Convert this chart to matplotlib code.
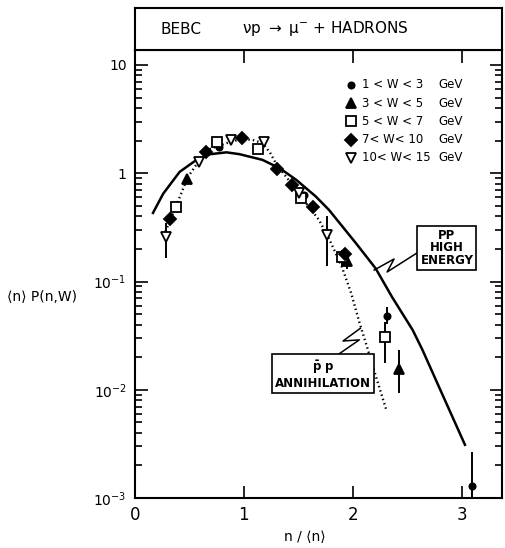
import numpy as np
import matplotlib.pyplot as plt

# KNO-scaled multiplicity distributions, nu p -> mu- + hadrons (BEBC)
# each W bin: x = n/<n>, y = <n> P(n,W)
w13_x = [0.77, 1.55, 1.92, 2.31, 3.09]
w13_y = [1.75, 0.63, 0.17, 0.048, 0.0013]
w13_lo = [0, 0, 0, 0.041, 0.0009]
w13_hi = [0, 0, 0, 0.057, 0.0026]

w35_x = [0.48, 1.95, 2.42]
w35_y = [0.88, 0.155, 0.0155]
w35_lo = [0, 0.133, 0.0095]
w35_hi = [0, 0.19, 0.0228]

w57_x = [0.375, 0.75, 1.13, 1.52, 1.90, 2.30]
w57_y = [0.49, 1.94, 1.68, 0.59, 0.17, 0.031]
w57_lo = [0, 0, 0, 0, 0.14, 0.018]
w57_hi = [0, 0, 0, 0, 0.19, 0.041]

w710_x = [0.32, 0.65, 0.98, 1.30, 1.445, 1.63, 1.93]
w710_y = [0.38, 1.57, 2.1, 1.09, 0.78, 0.49, 0.18]

w1015_x = [0.284, 0.585, 0.88, 1.18, 1.51, 1.76]
w1015_y = [0.26, 1.27, 2.03, 1.94, 0.66, 0.268]
w1015_lo = [0.17, 0, 0, 0, 0, 0.142]
w1015_hi = [0.34, 0, 0, 0, 0, 0.394]

# pp at high energy (solid) and pbar-p annihilation (dotted)
pp_x = [0.165, 0.26, 0.41, 0.565, 0.69, 0.84, 0.96, 1.17, 1.33, 1.48,
        1.66, 1.78, 2.03, 2.21, 2.36, 2.55, 2.64, 2.79, 3.03]
pp_y = [0.43, 0.65, 1.03, 1.33, 1.5, 1.56, 1.5, 1.33, 1.11, 0.87,
        0.61, 0.46, 0.225, 0.132, 0.072, 0.0356, 0.0233, 0.0107, 0.0031]

ann_x = [0.28, 0.41, 0.485, 0.58, 0.69, 0.87, 0.98, 1.08, 1.17, 1.24,
         1.30, 1.46, 1.57, 1.69, 1.78, 1.86, 1.9, 1.985, 2.06, 2.13, 2.22, 2.31]
ann_y = [0.29, 0.6, 0.92, 1.27, 1.68, 1.94, 2.07, 2.03, 1.9, 1.55,
         1.2, 0.75, 0.53, 0.37, 0.25, 0.168, 0.136, 0.078, 0.042, 0.025, 0.0125, 0.0064]

legend_labels = ["1 < W < 3", "3 < W < 5", "5 < W < 7", "7< W< 10", "10< W< 15"]
x_ticks = [0, 1, 2, 3]
y_ticks = [1e-3, 1e-2, 1e-1, 1, 10]
y_ticklabels = ["10$^{-3}$", "10$^{-2}$", "10$^{-1}$", "1", "10"]

plt.rcParams['font.family'] = ['DejaVu Sans']
plt.rcParams['mathtext.default'] = 'regular'

fig = plt.figure(figsize=(5.05, 5.48), dpi=100)
W, H = 505, 548
left, right, bot, top = 135, 502, 498, 50
ax = fig.add_axes([left / W, 1 - bot / H, (right - left) / W, (bot - top) / H])
hdr = fig.add_axes([left / W, 1 - top / H, (right - left) / W, (top - 8) / H])

ax.set_yscale('log')
ax.set_xlim(0, 3.37)
ax.set_ylim(1e-3, 10 ** (1 + 15 / 108.25))

ax.plot(pp_x, pp_y, 'k-', lw=1.8)
ax.plot(ann_x, ann_y, color='k', lw=1.7, linestyle=(0, (0.6, 1.3)))

series = [
    (w13_x, w13_y, w13_lo, w13_hi, dict(marker='o', ms=4.5, mfc='k')),
    (w35_x, w35_y, w35_lo, w35_hi, dict(marker='^', ms=7, mfc='k')),
    (w57_x, w57_y, w57_lo, w57_hi, dict(marker='s', ms=7.5, mfc='white')),
    (w710_x, w710_y, [0] * len(w710_x), [0] * len(w710_x), dict(marker='D', ms=6, mfc='k')),
    (w1015_x, w1015_y, w1015_lo, w1015_hi, dict(marker='v', ms=7, mfc='white')),
]
for xs, ys, lo, hi, st in series:
    for x, y, l, h in zip(xs, ys, lo, hi):
        if l > 0 or h > 0:
            ax.plot([x, x], [max(l, 9e-4) if l else y, h if h else y], 'k-', lw=1.4, zorder=2)
    ax.plot(xs, ys, linestyle='none', mec='k', mew=1.3, zorder=3, **st)

# legend drawn by hand
for i, ((xs, ys, lo, hi, st), lab) in enumerate(zip(series, legend_labels)):
    yy = 1 - (85 + i * 18.2 - top) / (bot - top)
    ax.plot([(351 - left) / (right - left)], [yy], transform=ax.transAxes,
            linestyle='none', mec='k', mew=1.3, clip_on=False, **st)
    ax.text((362 - left) / (right - left), yy, lab, transform=ax.transAxes,
            fontsize=8.5, va='center', ha='left')
    ax.text((438 - left) / (right - left), yy, "GeV", transform=ax.transAxes,
            fontsize=8.5, va='center', ha='left')

# labelled boxes with zigzag pointers
ax.text(2.864, 0.204, "PP\nHIGH\nENERGY", ha='center', va='center', fontsize=8.5,
        fontweight='bold', linespacing=0.95,
        bbox=dict(boxstyle='square,pad=0.25', fc='white', ec='k', lw=1.2))
ax.plot([2.196, 2.379, 2.315, 2.589], [0.1276, 0.1614, 0.1224, 0.1833], 'k-', lw=1.1)

ax.text(1.725, 0.0137, "$\\bar{p}\\ p$\nANNIHILATION", ha='center', va='center',
        fontsize=8.5, fontweight='bold', linespacing=1.1,
        bbox=dict(boxstyle='square,pad=0.25', fc='white', ec='k', lw=1.2))
ax.plot([1.785, 2.06, 1.91, 2.07], [0.0186, 0.0289, 0.0282, 0.037], 'k-', lw=1.1)

ax.set_xticks(x_ticks)
ax.set_xticklabels([str(t) for t in x_ticks], fontsize=12)
ax.set_yticks(y_ticks)
ax.set_yticklabels(y_ticklabels, fontsize=10)
ax.tick_params(which='both', direction='in', top=True, right=True, width=1.2)
ax.tick_params(which='major', length=9, pad=6)
ax.tick_params(which='minor', length=5)
ax.tick_params(axis='x', labeltop=False)
for s in ax.spines.values():
    s.set_linewidth(1.5)

fig.text(42 / W, 1 - 297 / H, "⟨n⟩ P(n,W)", fontsize=10, ha='center', va='center')
fig.text(305 / W, 1 - 537 / H, "n / ⟨n⟩", fontsize=10, ha='center', va='center')

hdr.set_xticks([])
hdr.set_yticks([])
for s in hdr.spines.values():
    s.set_linewidth(1.5)
hdr.text((160 - left) / (right - left), 0.5, "BEBC", fontsize=11, va='center', ha='left')
hdr.text((242 - left) / (right - left), 0.5, "$\\nu$p $\\rightarrow$ $\\mu^{-}$ + HADRONS",
         fontsize=11, va='center', ha='left')

fig.savefig("out.png", dpi=100)
